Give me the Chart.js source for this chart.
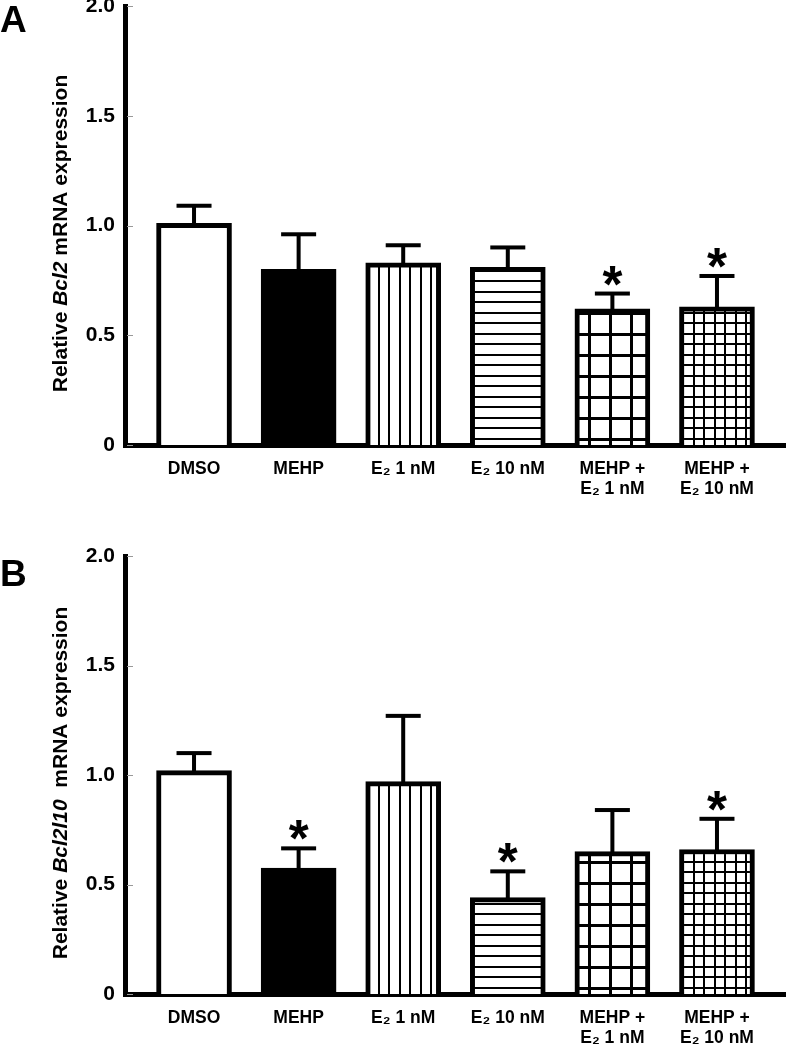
<!DOCTYPE html>
<html>
<head>
<meta charset="utf-8">
<script src="https://cdn.jsdelivr.net/npm/chart.js@4.4.1/dist/chart.umd.min.js"></script>
<style>
  body { margin: 0; background: #fff; width: 786px; height: 1050px; overflow: hidden; position: relative; }
  canvas { position: absolute; left: 0; }
</style>
</head>
<body>
<canvas id="chartA" width="786" height="549" style="top:-24px"></canvas>
<canvas id="chartB" width="786" height="525" style="top:525px"></canvas>
<script>
// data
const groups = ['DMSO', 'MEHP', 'E₂ 1 nM', 'E₂ 10 nM', ['MEHP +', 'E₂ 1 nM'], ['MEHP +', 'E₂ 10 nM']];
const yTicks = [0, 0.5, 1.0, 1.5, 2.0];

const bcl2Mean = [1.01, 0.80, 0.83, 0.81, 0.62, 0.63];
const bcl2Sem = [0.08, 0.16, 0.08, 0.09, 0.07, 0.14];
const bcl2Star = [false, false, false, false, true, true];

const bcl2l10Mean = [1.02, 0.575, 0.97, 0.44, 0.65, 0.66];
const bcl2l10Sem = [0.08, 0.09, 0.30, 0.12, 0.19, 0.14];
const bcl2l10Star = [false, true, false, true, false, true];

const FONT = '"Liberation Sans", Arial, sans-serif';

// fill patterns
function hatch(vert, horiz, lw) {
    const c = document.createElement('canvas');
    c.width = c.height = 21;
    const g = c.getContext('2d');
    g.fillStyle = '#fff';
    g.fillRect(0, 0, 21, 21);
    g.fillStyle = '#000';
    vert.forEach(x => g.fillRect(x, 0, lw, 21));
    horiz.forEach(y => g.fillRect(0, y, 21, lw));
    return g.createPattern(c, 'repeat');
}
const fills = [
    '#fff',
    '#000',
    hatch([0, 10], [], 2),
    hatch([], [0, 10], 2),
    hatch([0], [0], 3),
    hatch([0, 10], [0, 10], 2)
];

// error bars, asterisks, inner y ticks, y title and panel letter
const decorPlugin = {
    id: 'decor',
    afterDraw(chart, args, opts) {
        const ctx = chart.ctx;
        const y = chart.scales.y;
        const area = chart.chartArea;
        const meta = chart.getDatasetMeta(0);
        ctx.save();

        // inner tick marks
        ctx.strokeStyle = '#999';
        ctx.lineWidth = 1;
        yTicks.forEach(v => {
            const py = Math.round(y.getPixelForValue(v)) + 0.5;
            ctx.beginPath();
            ctx.moveTo(area.left + 2, py);
            ctx.lineTo(area.left + 8, py);
            ctx.stroke();
        });

        // error bars
        ctx.fillStyle = '#000';
        meta.data.forEach((bar, i) => {
            const top = y.getPixelForValue(opts.mean[i] + opts.sem[i]);
            ctx.fillRect(bar.x - 2, top, 4, bar.y - top + 2);
            ctx.fillRect(bar.x - 17.5, top - 2, 35, 4);

            if (opts.star[i]) {
                ctx.font = 'bold 100px ' + FONT;
                const m = ctx.measureText('*');
                const size = 100 * 20 / (m.actualBoundingBoxLeft + m.actualBoundingBoxRight);
                ctx.font = 'bold ' + size + 'px ' + FONT;
                const mm = ctx.measureText('*');
                const cy = top - 18;
                ctx.textAlign = 'center';
                ctx.textBaseline = 'alphabetic';
                ctx.fillText('*', bar.x, cy + (mm.actualBoundingBoxAscent - mm.actualBoundingBoxDescent) / 2);
            }
        });

        // y axis title with italic gene name
        const parts = opts.title;
        const fonts = parts.map(p => (p.italic ? 'italic ' : '') + 'bold 21px ' + FONT);
        let total = 0;
        const widths = parts.map((p, i) => {
            ctx.font = fonts[i];
            const w = ctx.measureText(p.text).width;
            total += w;
            return w;
        });
        ctx.translate(67, (area.top + area.bottom) / 2 + 8);
        ctx.rotate(-Math.PI / 2);
        ctx.textAlign = 'left';
        ctx.textBaseline = 'alphabetic';
        let x = -total / 2;
        parts.forEach((p, i) => {
            ctx.font = fonts[i];
            ctx.fillText(p.text, x, 0);
            x += widths[i];
        });
        ctx.setTransform(1, 0, 0, 1, 0, 0);

        // panel letter
        ctx.font = 'bold 37px ' + FONT;
        ctx.textAlign = 'left';
        ctx.fillText(opts.letter, 0, opts.letterY);
        ctx.restore();
    }
};

function makeChart(id, mean, sem, star, title, letter, letterY, padTop, xHeight) {
    return new Chart(document.getElementById(id), {
        type: 'bar',
        data: {
            datasets: [{
                data: mean.map((v, i) => ({x: i, y: v})),
                backgroundColor: fills,
                borderColor: '#000',
                borderWidth: 5,
                borderSkipped: 'start',
                barThickness: 75
            }]
        },
        options: {
            responsive: false,
            animation: false,
            layout: {padding: {top: padTop, left: 0, right: 0, bottom: 0}},
            plugins: {
                legend: {display: false},
                tooltip: {enabled: false},
                decor: {mean, sem, star, title, letter, letterY}
            },
            scales: {
                x: {
                    type: 'linear',
                    offset: false,
                    min: -0.66,
                    max: 5.66,
                    z: 1,
                    afterBuildTicks: s => { s.ticks = groups.map((g, i) => ({value: i})); },
                    afterFit: s => { s.height = xHeight; },
                    grid: {display: false, drawTicks: false, offset: false},
                    border: {display: true, color: '#000', width: 5},
                    ticks: {
                        callback: v => groups[v],
                        autoSkip: false,
                        maxRotation: 0,
                        padding: 14,
                        color: '#000',
                        font: {family: FONT, size: 17.5, weight: 'bold', lineHeight: 1.15}
                    }
                },
                y: {
                    min: 0,
                    max: 2,
                    z: 1,
                    afterBuildTicks: s => { s.ticks = yTicks.map(v => ({value: v})); },
                    afterFit: s => { s.width = 125; },
                    grid: {display: false, drawTicks: false},
                    border: {display: true, color: '#000', width: 5},
                    ticks: {
                        callback: v => v === 0 ? '0' : v.toFixed(1),
                        padding: 10,
                        color: '#000',
                        font: {family: FONT, size: 21, weight: 'bold'}
                    }
                }
            }
        },
        plugins: [decorPlugin]
    });
}

makeChart('chartA', bcl2Mean, bcl2Sem, bcl2Star,
    [{text: 'Relative '}, {text: 'Bcl2', italic: true}, {text: ' mRNA expression'}],
    'A', 56, 30, 80);
makeChart('chartB', bcl2l10Mean, bcl2l10Sem, bcl2l10Star,
    [{text: 'Relative '}, {text: 'Bcl2l10', italic: true}, {text: '  mRNA expression'}],
    'B', 61, 31, 56);
</script>
</body>
</html>
